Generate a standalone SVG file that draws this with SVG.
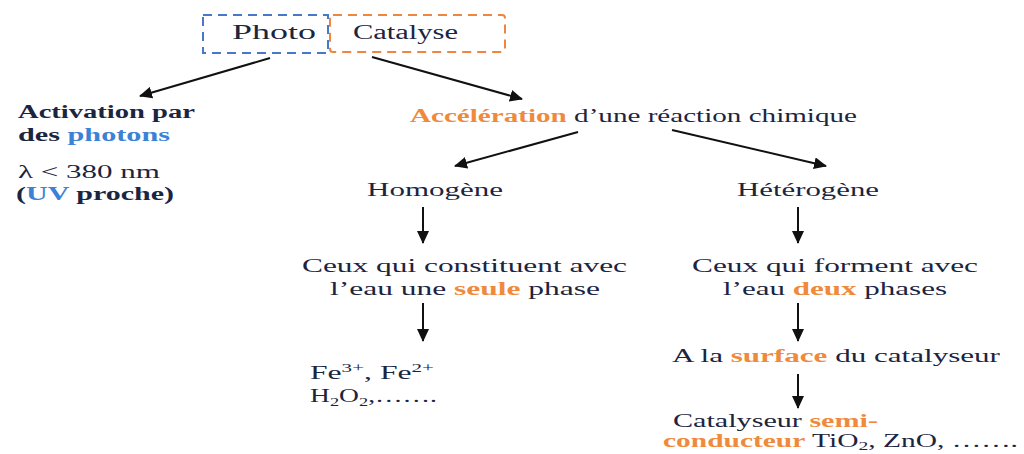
<svg xmlns="http://www.w3.org/2000/svg" width="1024" height="454" viewBox="0 0 1024 454">
<style>
  text { font-family: "Liberation Serif", "Times New Roman", serif; font-size: 18px; fill: #1c2540; }
  .t { font-size: 20px; }
  .o { fill: #ef8a3c; font-weight: bold; }
  .b { fill: #3b82d6; font-weight: bold; }
  .bold { font-weight: bold; }
  .conn line { stroke: #111; stroke-width: 2; marker-end: url(#ah); }
</style>
<defs>
  <marker id="ah" markerUnits="userSpaceOnUse" markerWidth="14" markerHeight="12" refX="12" refY="6" orient="auto">
    <path d="M0,0 L13,6 L0,12 Z" fill="#111"/>
  </marker>
</defs>
<rect width="1024" height="454" fill="#fff"/>

<g id="photo">
  <rect x="203" y="15" width="125" height="38" fill="none" stroke="#4a78c8" stroke-width="2" stroke-dasharray="9,6"/>
  <text class="t" x="232" y="39" textLength="84" lengthAdjust="spacingAndGlyphs">Photo</text>
</g>
<g id="catalyse">
  <rect x="330" y="15" width="175" height="37" rx="3" fill="none" stroke="#ee8540" stroke-width="2" stroke-dasharray="9,6"/>
  <text class="t" x="353" y="39" textLength="105" lengthAdjust="spacingAndGlyphs">Catalyse</text>
</g>

<g id="activation">
  <text class="bold" x="18" y="118" textLength="177" lengthAdjust="spacingAndGlyphs">Activation par</text>
  <text class="bold" x="18" y="141" textLength="152" lengthAdjust="spacingAndGlyphs">des <tspan class="b">photons</tspan></text>
  <text x="18" y="178" textLength="142" lengthAdjust="spacingAndGlyphs">λ &lt; 380  nm</text>
  <text class="bold" x="16" y="200" textLength="158" lengthAdjust="spacingAndGlyphs">(<tspan class="b">UV</tspan> proche)</text>
</g>

<g id="acceleration">
  <text x="410" y="122" textLength="447" lengthAdjust="spacingAndGlyphs"><tspan class="o">Accélération</tspan> d’une réaction chimique</text>
</g>

<g id="homogene">
  <text x="367" y="196" textLength="136" lengthAdjust="spacingAndGlyphs">Homogène</text>
</g>
<g id="heterogene">
  <text x="737" y="196" textLength="142" lengthAdjust="spacingAndGlyphs">Hétérogène</text>
</g>

<g id="une-phase">
  <text x="302" y="272" textLength="325" lengthAdjust="spacingAndGlyphs">Ceux qui constituent avec</text>
  <text x="330" y="295" textLength="270" lengthAdjust="spacingAndGlyphs">l’eau une <tspan class="o">seule</tspan> phase</text>
</g>
<g id="deux-phases">
  <text x="692" y="272" textLength="286" lengthAdjust="spacingAndGlyphs">Ceux qui forment avec</text>
  <text x="723" y="295" textLength="224" lengthAdjust="spacingAndGlyphs">l’eau <tspan class="o">deux</tspan> phases</text>
</g>

<g id="fe">
  <text x="310" y="379" textLength="124" lengthAdjust="spacingAndGlyphs">Fe<tspan font-size="12" dy="-7">3+</tspan><tspan dy="7">, Fe</tspan><tspan font-size="12" dy="-7">2+</tspan></text>
  <text x="310" y="402" textLength="127" lengthAdjust="spacingAndGlyphs">H<tspan font-size="12" dy="4">2</tspan><tspan dy="-4">O</tspan><tspan font-size="12" dy="4">2</tspan><tspan dy="-4">,…….</tspan></text>
</g>

<g id="surface">
  <text x="672" y="362" textLength="328" lengthAdjust="spacingAndGlyphs">A la <tspan class="o">surface</tspan> du catalyseur</text>
</g>
<g id="semi">
  <text x="673" y="427" textLength="205" lengthAdjust="spacingAndGlyphs">Catalyseur <tspan class="o">semi-</tspan></text>
  <text x="663" y="447" textLength="355" lengthAdjust="spacingAndGlyphs"><tspan class="o">conducteur</tspan> TiO<tspan font-size="12" dy="3">2</tspan><tspan dy="-3">, ZnO, …….</tspan></text>
</g>

<g id="connectors" class="conn">
  <line x1="270" y1="58" x2="140" y2="96"/>
  <line x1="372" y1="57" x2="522" y2="99"/>
  <line x1="578" y1="132" x2="455" y2="166"/>
  <line x1="672" y1="130" x2="826" y2="166"/>
  <line x1="423" y1="207" x2="423" y2="243"/>
  <line x1="798" y1="207" x2="798" y2="243"/>
  <line x1="423" y1="303" x2="423" y2="341"/>
  <line x1="798" y1="303" x2="798" y2="341"/>
  <line x1="798" y1="374" x2="798" y2="408"/>
</g>
</svg>
